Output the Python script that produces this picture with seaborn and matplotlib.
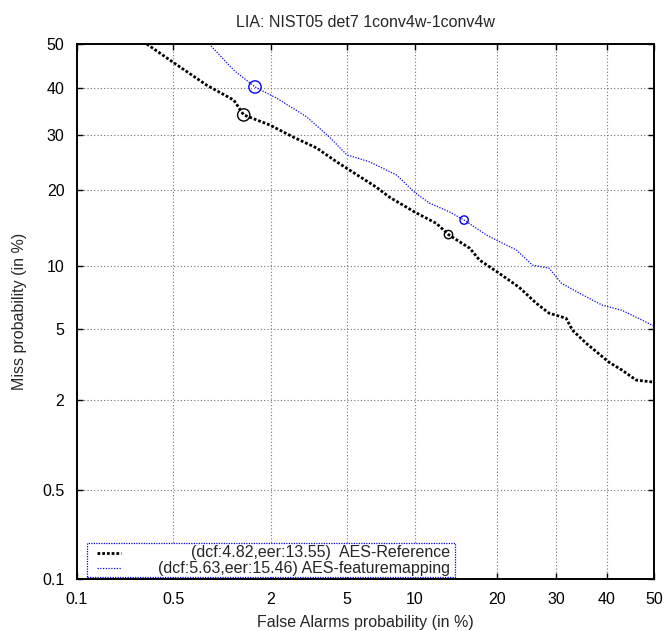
import math
import numpy as np
import pandas as pd
import matplotlib
matplotlib.use("Agg")
import matplotlib.pyplot as plt
from matplotlib.patches import Rectangle
from matplotlib.lines import Line2D
import seaborn as sns

# ---------------- data (percent) ----------------
title = "LIA: NIST05 det7 1conv4w-1conv4w"
xlabel = "False Alarms probability (in %)"
ylabel = "Miss probability (in %)"

tick_values = [0.1, 0.5, 2, 5, 10, 20, 30, 40, 50]
tick_labels = ["0.1", "0.5", "2", "5", "10", "20", "30", "40", "50"]

ref_fa = [0.33, 0.51, 0.83, 1.22, 1.40, 1.98, 2.68, 3.54, 4.46, 5.16, 6.86, 7.84,
          9.98, 12.2, 13.55, 16.2, 17.5, 20.1, 23.5, 26.4, 28.7, 31.9, 33.1, 35.8,
          40.5, 43.2, 46.2, 50.0]
ref_miss = [50.0, 45.6, 40.6, 37.3, 34.1, 32.0, 29.5, 27.4, 24.8, 23.3, 20.4, 18.8,
            16.6, 15.0, 13.55, 11.9, 10.6, 9.38, 8.0, 6.72, 6.0, 5.66, 4.92, 4.2,
            3.3, 2.98, 2.61, 2.54]

fm_fa = [0.86, 1.22, 1.63, 2.17, 3.14, 4.12, 5.0, 6.39, 8.4, 9.98, 11.47, 13.68,
         15.46, 18.5, 23.06, 25.75, 28.7, 31.0, 34.5, 39.1, 43.2, 47.5, 50.0]
fm_miss = [50.0, 44.0, 40.2, 37.7, 33.7, 29.5, 26.1, 24.8, 22.45, 19.6, 17.9, 16.6,
           15.46, 13.48, 11.7, 10.08, 9.77, 8.35, 7.5, 6.57, 6.2, 5.53, 5.16]

series_names = ["AES-Reference", "AES-featuremapping"]
dcf_values = [4.82, 5.63]
eer_values = [13.55, 15.46]
dcf_point_fa = [1.40, 1.63]
dcf_point_miss = [34.1, 40.2]

# ---------------- probit scale ----------------
_a = [-3.969683028665376e+01, 2.209460984245205e+02, -2.759285104469687e+02,
      1.383577518672690e+02, -3.066479806614716e+01, 2.506628277459239e+00]
_b = [-5.447609879822406e+01, 1.615858368580409e+02, -1.556989798598866e+02,
      6.680131188771972e+01, -1.328068155288572e+01]
_c = [-7.784894002430293e-03, -3.223964580411365e-01, -2.400758277161838e+00,
      -2.549732539343734e+00, 4.374664141464968e+00, 2.938163982698783e+00]
_d = [7.784695709041462e-03, 3.224671290700398e-01, 2.445134137142996e+00,
      3.754408661907416e+00]


def _ppf_scalar(p):
    p = min(max(p, 1e-12), 1 - 1e-12)
    plow = 0.02425
    if p < plow:
        q = math.sqrt(-2 * math.log(p))
        return (((((_c[0]*q+_c[1])*q+_c[2])*q+_c[3])*q+_c[4])*q+_c[5]) / \
               ((((_d[0]*q+_d[1])*q+_d[2])*q+_d[3])*q+1)
    if p > 1 - plow:
        q = math.sqrt(-2 * math.log(1 - p))
        return -(((((_c[0]*q+_c[1])*q+_c[2])*q+_c[3])*q+_c[4])*q+_c[5]) / \
                ((((_d[0]*q+_d[1])*q+_d[2])*q+_d[3])*q+1)
    q = p - 0.5
    r = q * q
    return (((((_a[0]*r+_a[1])*r+_a[2])*r+_a[3])*r+_a[4])*r+_a[5])*q / \
           (((((_b[0]*r+_b[1])*r+_b[2])*r+_b[3])*r+_b[4])*r+1)


_ppf_v = np.vectorize(lambda v: _ppf_scalar(v / 100.0) if np.isfinite(v) else np.nan,
                      otypes=[float])
_cdf_v = np.vectorize(lambda z: 100.0 * 0.5 * (1 + math.erf(z / math.sqrt(2)))
                      if np.isfinite(z) else np.nan, otypes=[float])


def fwd(v):
    return _ppf_v(np.asarray(v, dtype=float))


def inv(z):
    return _cdf_v(np.asarray(z, dtype=float))


# ---------------- figure ----------------
FS = 11.5
sns.set_style("ticks")
plt.rcParams["font.family"] = ["Liberation Sans", "DejaVu Sans"]
plt.rcParams["font.size"] = FS

fig = plt.figure(figsize=(6.64, 6.31), dpi=100)
ax = fig.add_axes([77 / 664, 1 - 579 / 631, 577 / 664, 535 / 631])
ax.set_xscale("function", functions=(fwd, inv))
ax.set_yscale("function", functions=(fwd, inv))

ref_df = pd.DataFrame({"fa": ref_fa, "miss": ref_miss})
fm_df = pd.DataFrame({"fa": fm_fa, "miss": fm_miss})

ref_style = dict(color="black", linewidth=2.0, linestyle=(0, (1, 0.7)))
fm_style = dict(color="#0000ff", linewidth=0.9, linestyle=(0, (1, 1.2)))

sns.lineplot(data=ref_df, x="fa", y="miss", sort=False, estimator=None, ax=ax,
             legend=False, **ref_style)
sns.lineplot(data=fm_df, x="fa", y="miss", sort=False, estimator=None, ax=ax,
             legend=False, **fm_style)

colors = ["black", "#0000ff"]
for i in range(2):
    sns.scatterplot(x=[dcf_point_fa[i]], y=[dcf_point_miss[i]], ax=ax, marker="o",
                    s=78, facecolors="none", edgecolor=colors[i], linewidth=1.0,
                    legend=False, zorder=5)
    sns.scatterplot(x=[eer_values[i]], y=[eer_values[i]], ax=ax, marker="o",
                    s=36, facecolors="none", edgecolor=colors[i], linewidth=1.0,
                    legend=False, zorder=5)

ax.set_xlim(0.1, 50)
ax.set_ylim(0.1, 50)
ax.set_xticks(tick_values)
ax.set_xticklabels(tick_labels)
ax.set_yticks(tick_values)
ax.set_yticklabels(tick_labels)
ax.xaxis.set_minor_locator(matplotlib.ticker.NullLocator())
ax.yaxis.set_minor_locator(matplotlib.ticker.NullLocator())

ax.grid(True, linestyle=(0, (1, 2)), color="0.45", linewidth=0.8)
ax.tick_params(direction="in", top=True, right=True, length=4, width=1,
               labelsize=FS, colors="black")
ax.tick_params(axis="x", pad=9)
ax.tick_params(axis="y", pad=9)
for sp in ax.spines.values():
    sp.set_visible(True)
    sp.set_linewidth(1.4)
    sp.set_color("black")

ax.set_title(title, fontsize=FS, pad=12)
ax.set_xlabel(xlabel, fontsize=FS, labelpad=6)
ax.set_ylabel(ylabel, fontsize=FS, labelpad=11)

# ---------------- legend (gnuplot style, right aligned text) ----------------
lx0, lx1, ly0, ly1 = 0.017, 0.655, 0.004, 0.067
ax.add_patch(Rectangle((lx0, ly0), lx1 - lx0, ly1 - ly0, transform=ax.transAxes,
                       fill=True, facecolor="white", edgecolor="#0000ff",
                       linestyle=(0, (1, 1)), linewidth=0.9, zorder=6))
row_y = [0.049, 0.020]
labels = ["(dcf:%.2f,eer:%.2f)  %s" % (dcf_values[0], eer_values[0], series_names[0]),
          "(dcf:%.2f,eer:%.2f) %s" % (dcf_values[1], eer_values[1], series_names[1])]
for i, st in enumerate([ref_style, fm_style]):
    ax.add_line(Line2D([0.035, 0.076], [row_y[i], row_y[i]], transform=ax.transAxes,
                       zorder=7, color=st["color"], lw=st["linewidth"],
                       ls=st["linestyle"]))
    ax.text(0.647, row_y[i], labels[i], transform=ax.transAxes, ha="right",
            va="center", fontsize=FS, zorder=7)

fig.savefig("out.png", dpi=100)
